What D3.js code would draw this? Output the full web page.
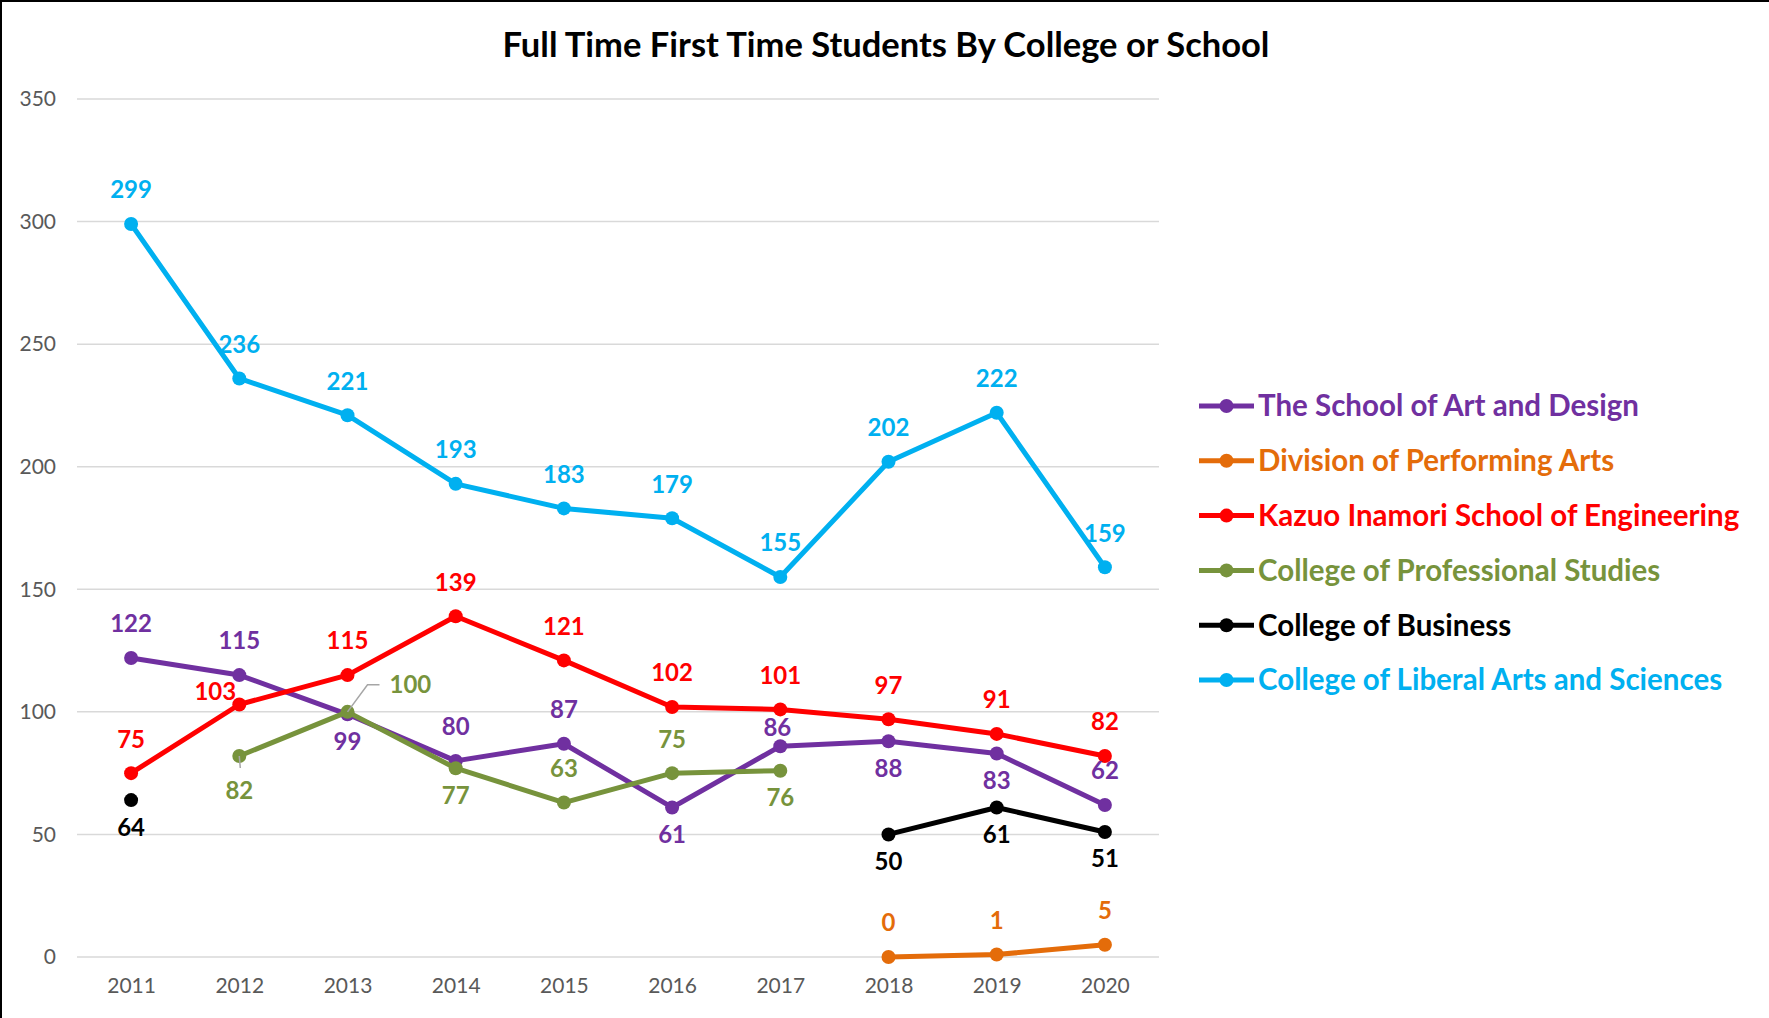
<!DOCTYPE html>
<meta charset="utf-8">
<script src="https://d3js.org/d3.v7.min.js"></script>
<style>
  body { margin: 0; background: #fff; }
  text { font-family: Lato, "Open Sans", sans-serif; }
</style>
<div id="chart"></div>
<script>

// data
const years = ["2011", "2012", "2013", "2014", "2015", "2016", "2017", "2018", "2019", "2020"];
const artDesign      = [122, 115, 99, 80, 87, 61, 86, 88, 83, 62];
const performingArts = [null, null, null, null, null, null, null, 0, 1, 5];
const engineering    = [75, 103, 115, 139, 121, 102, 101, 97, 91, 82];
const professional   = [null, 82, 100, 77, 63, 75, 76, null, null, null];
const business       = [64, null, null, null, null, null, null, 50, 61, 51];
const liberalArts    = [299, 236, 221, 193, 183, 179, 155, 202, 222, 159];
const yTicks = [0, 50, 100, 150, 200, 250, 300, 350];

// where each value label sits: a = above, n = just above, b = below,
// l = above left, lb = below with leader, r = right with leader
const series = [
  {name: "The School of Art and Design", color: "#7030A0", values: artDesign,
   pos: ["a","a","b","a","a","b","n","b","b","a"]},
  {name: "Division of Performing Arts", color: "#E46C0A", values: performingArts,
   pos: ["a","a","a","a","a","a","a","a","a","a"]},
  {name: "Kazuo Inamori School of Engineering", color: "#FF0000", values: engineering,
   pos: ["a","l","a","a","a","a","a","a","a","a"]},
  {name: "College of Professional Studies", color: "#77933C", values: professional,
   pos: ["a","lb","r","b","a","a","b","a","a","a"]},
  {name: "College of Business", color: "#000000", values: business,
   pos: ["b","b","b","b","b","b","b","b","b","b"]},
  {name: "College of Liberal Arts and Sciences", color: "#00B0F0", values: liberalArts,
   pos: ["a","a","a","a","a","a","a","a","a","a"]}
];

const W = 1769, H = 1018;
const plot = {left: 77, right: 1159, top: 99, bottom: 957};

const svg = d3.select("#chart").append("svg")
  .attr("width", W).attr("height", H);

// outer border (only top and left edges are visible)
svg.append("rect")
  .attr("x", 1).attr("y", 1).attr("width", W + 10).attr("height", H + 10)
  .attr("fill", "none").attr("stroke", "#000").attr("stroke-width", 2);

svg.append("text")
  .attr("x", 886).attr("y", 45).attr("dy", "0.35em")
  .attr("text-anchor", "middle")
  .attr("font-size", 34.5).attr("font-weight", "bold").attr("fill", "#000")
  .text("Full Time First Time Students By College or School");

const x = d3.scalePoint().domain(years).range([plot.left, plot.right]).padding(0.5);
const y = d3.scaleLinear().domain([0, 350]).range([plot.bottom, plot.top]);

// grid lines
svg.append("g")
  .selectAll("line").data(yTicks).join("line")
    .attr("x1", plot.left).attr("x2", plot.right)
    .attr("y1", d => y(d)).attr("y2", d => y(d))
    .attr("stroke", "#D9D9D9").attr("stroke-width", 1.5);

// Y axis
const yAxis = svg.append("g")
  .attr("transform", `translate(${plot.left - 10},0)`)
  .call(d3.axisLeft(y).tickValues(yTicks).tickSize(0).tickPadding(11));
yAxis.select(".domain").remove();
yAxis.selectAll("text").attr("font-size", 21).attr("fill", "#595959")
  .style("font-family", "Lato, sans-serif");

// X axis
const xAxis = svg.append("g")
  .attr("transform", `translate(0,${plot.bottom})`)
  .call(d3.axisBottom(x).tickSize(0).tickPadding(21));
xAxis.select(".domain").remove();
xAxis.selectAll("text").attr("font-size", 21).attr("fill", "#595959")
  .style("font-family", "Lato, sans-serif");

const line = d3.line()
  .defined(d => d.v != null)
  .x(d => x(d.year))
  .y(d => y(d.v));

series.forEach(s => {
  const pts = years.map((yr, i) => ({year: yr, v: s.values[i], pos: s.pos[i]}));
  const g = svg.append("g");
  g.append("path")
    .datum(pts)
    .attr("d", line)
    .attr("fill", "none")
    .attr("stroke", s.color)
    .attr("stroke-width", 5)
    .attr("stroke-linejoin", "round");
  g.selectAll("circle")
    .data(pts.filter(d => d.v != null))
    .join("circle")
      .attr("cx", d => x(d.year))
      .attr("cy", d => y(d.v))
      .attr("r", 7)
      .attr("fill", s.color);
  s.pts = pts;
});

// data labels on top of everything
const labels = svg.append("g");
series.forEach(s => {
  s.pts.filter(d => d.v != null).forEach(d => {
    const px = x(d.year), py = y(d.v);
    let lx = px, ly = py - 34, anchor = "middle";
    if (d.pos === "b") { ly = py + 27; }
    if (d.pos === "n") { lx = px - 3; ly = py - 19; }
    if (d.pos === "l") { lx = px - 24; ly = py - 13; }
    if (d.pos === "lb") {
      ly = py + 35;
      labels.append("line")
        .attr("x1", px).attr("y1", py).attr("x2", px + 1).attr("y2", py + 12)
        .attr("stroke", "#A6A6A6").attr("stroke-width", 1.5);
    }
    if (d.pos === "r") {
      lx = px + 42; ly = py - 27; anchor = "start";
      labels.append("polyline")
        .attr("points", `${px},${py} ${px + 20},${py - 27} ${px + 32},${py - 27}`)
        .attr("fill", "none")
        .attr("stroke", "#A6A6A6").attr("stroke-width", 1.5);
    }
    labels.append("text")
      .attr("x", lx).attr("y", ly).attr("dy", "0.35em")
      .attr("text-anchor", anchor)
      .attr("font-size", 24).attr("font-weight", "bold")
      .attr("fill", s.color)
      .text(d.v);
  });
});

// legend
const legend = svg.append("g").attr("transform", "translate(1199,406)");
const row = legend.selectAll("g").data(series).join("g")
  .attr("transform", (d, i) => `translate(0,${i * 54.8})`);
row.append("line")
  .attr("x1", 0).attr("x2", 55).attr("y1", 0).attr("y2", 0)
  .attr("stroke", d => d.color).attr("stroke-width", 5);
row.append("circle")
  .attr("cx", 27.5).attr("cy", 0).attr("r", 7)
  .attr("fill", d => d.color);
row.append("text")
  .attr("x", 59).attr("y", 0).attr("dy", "0.35em")
  .attr("font-size", 29.5).attr("font-weight", "bold")
  .attr("fill", d => d.color)
  .text(d => d.name);

</script>
